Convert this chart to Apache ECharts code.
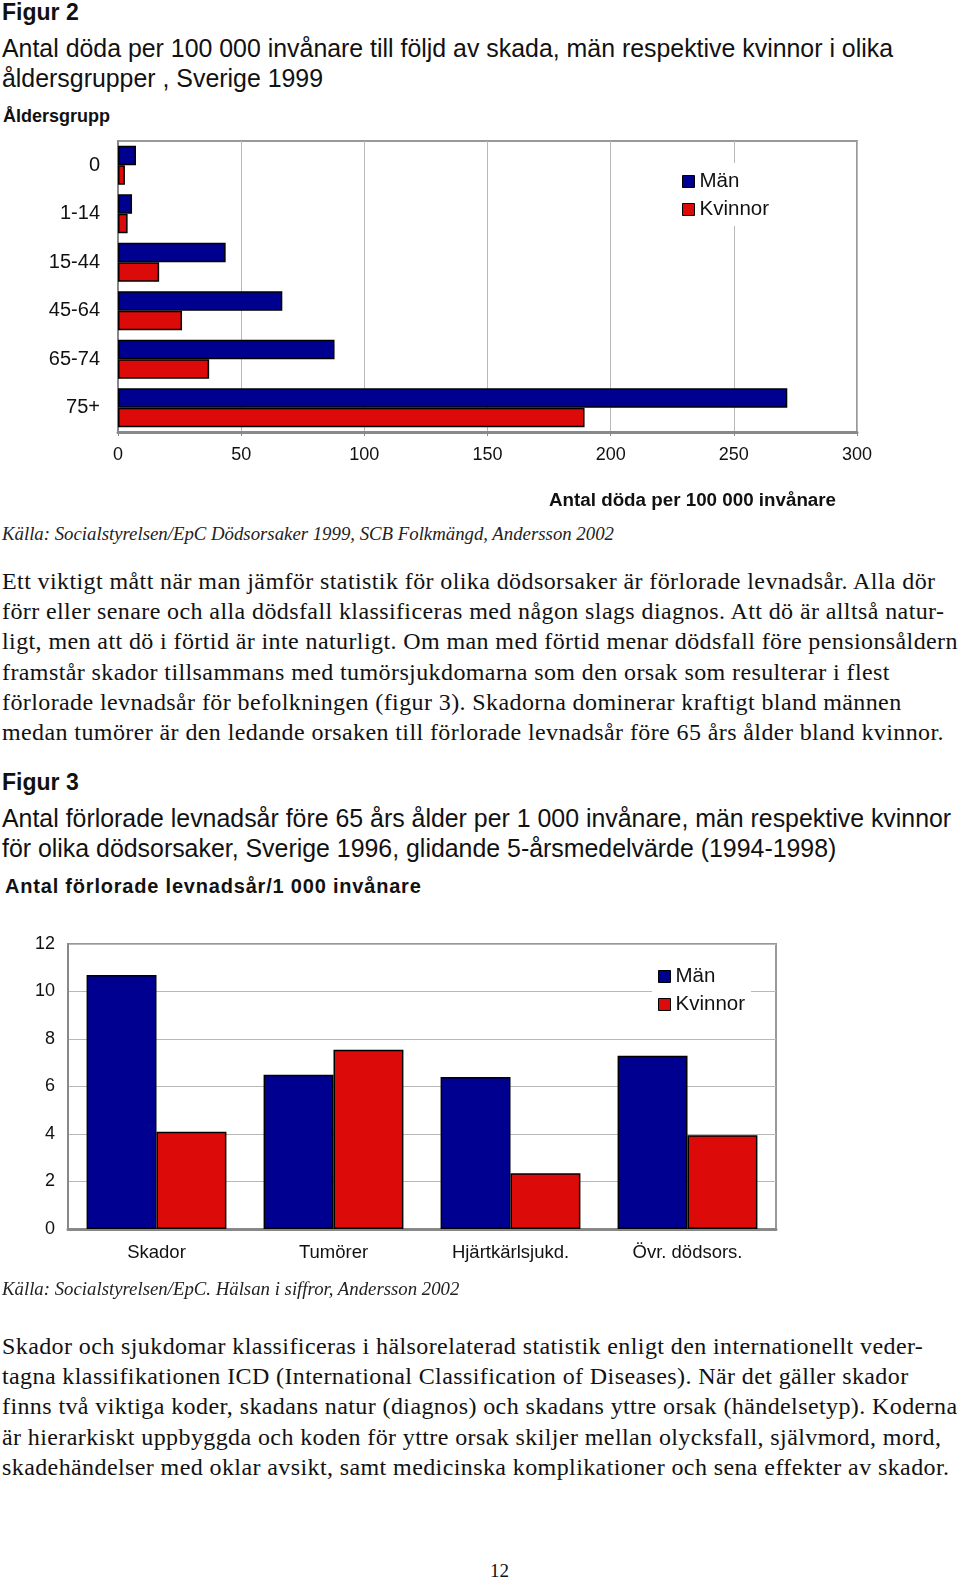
<!DOCTYPE html>
<html>
<head>
<meta charset="utf-8">
<script src="https://cdn.jsdelivr.net/npm/echarts@6/dist/echarts.min.js"></script>
<style>
  html, body { margin: 0; padding: 0; background: #fff; }
  body { width: 960px; height: 1580px; position: relative; overflow: hidden; color: #111; }
  .t { position: absolute; white-space: pre; }
  .sans { font-family: "Liberation Sans", Arial, sans-serif; }
  .serif { font-family: "Liberation Serif", "Times New Roman", serif; }
  .fig { font-weight: bold; font-size: 23px; line-height: 26px; }
  .title { font-size: 24.9px; line-height: 30px; }
  .src { font-style: italic; font-size: 18.8px; line-height: 22px; color: #222; }
  .para { font-size: 24px; line-height: 30.2px; letter-spacing: 0.4px; }
  #c1 { position: absolute; left: 0; top: 130px; width: 960px; height: 360px; }
  #c2 { position: absolute; left: 0; top: 900px; width: 960px; height: 380px; }
</style>
</head>
<body>
<div class="t sans fig" style="left:2px; top:-1px;">Figur 2</div>
<div class="t sans title" style="left:2px; top:33px;">Antal döda per 100 000 invånare till följd av skada, män respektive kvinnor i olika
åldersgrupper , Sverige 1999</div>
<div class="t sans" style="left:3px; top:105px; font-weight:bold; font-size:18px; line-height:22px;">Åldersgrupp</div>
<div id="c1"></div>
<div class="t sans" style="left:549px; top:489px; font-weight:bold; font-size:18.8px; line-height:22px;">Antal döda per 100 000 invånare</div>
<div class="t serif src" style="left:2px; top:523px;">Källa: Socialstyrelsen/EpC Dödsorsaker 1999, SCB Folkmängd, Andersson 2002</div>
<div class="t serif para" style="left:2px; top:566px;">Ett viktigt mått när man jämför statistik för olika dödsorsaker är förlorade levnadsår. Alla dör
förr eller senare och alla dödsfall klassificeras med någon slags diagnos. Att dö är alltså natur-
ligt, men att dö i förtid är inte naturligt. Om man med förtid menar dödsfall före pensionsåldern
framstår skador tillsammans med tumörsjukdomarna som den orsak som resulterar i flest
förlorade levnadsår för befolkningen (figur 3). Skadorna dominerar kraftigt bland männen
medan tumörer är den ledande orsaken till förlorade levnadsår före 65 års ålder bland kvinnor.</div>
<div class="t sans fig" style="left:2px; top:769px;">Figur 3</div>
<div class="t sans title" style="left:2px; top:803px;">Antal förlorade levnadsår före 65 års ålder per 1 000 invånare, män respektive kvinnor
för olika dödsorsaker, Sverige 1996, glidande 5-årsmedelvärde (1994-1998)</div>
<div class="t sans" style="left:5px; top:875px; font-weight:bold; font-size:20px; line-height:22px; letter-spacing:0.8px;">Antal förlorade levnadsår/1 000 invånare</div>
<div id="c2"></div>
<div class="t serif src" style="left:2px; top:1278px;">Källa: Socialstyrelsen/EpC. Hälsan i siffror, Andersson 2002</div>
<div class="t serif para" style="left:2px; top:1331px;">Skador och sjukdomar klassificeras i hälsorelaterad statistik enligt den internationellt veder-
tagna klassifikationen ICD (International Classification of Diseases). När det gäller skador
finns två viktiga koder, skadans natur (diagnos) och skadans yttre orsak (händelsetyp). Koderna
är hierarkiskt uppbyggda och koden för yttre orsak skiljer mellan olycksfall, självmord, mord,
skadehändelser med oklar avsikt, samt medicinska komplikationer och sena effekter av skador.</div>
<div class="t serif" style="left:490px; top:1559px; font-size:19px; line-height:24px;">12</div>

<script>
// ---- Figur 2 data ----
const ageGroups = ['0', '1-14', '15-44', '45-64', '65-74', '75+'];
const fig2Men = [7.3, 5.7, 43.7, 66.7, 87.9, 271.7];
const fig2Women = [2.8, 3.9, 16.7, 26.0, 37.0, 189.4];
const fig2Min = 0, fig2Max = 300, fig2Step = 50;

// ---- Figur 3 data ----
const causes = ['Skador', 'Tumörer', 'Hjärtkärlsjukd.', 'Övr. dödsors.'];
const fig3Men = [10.7, 6.5, 6.4, 7.3];
const fig3Women = [4.1, 7.55, 2.35, 3.95];
const fig3Min = 0, fig3Max = 12, fig3Step = 2;

const seriesNames = ['Män', 'Kvinnor'];

const NAVY = '#000090';
const RED = '#dd0a0a';
const SANS = '"Liberation Sans", Arial, sans-serif';
const TXT = '#111';

function legendCfg(left, top) {
  return {
    orient: 'vertical', left: left, top: top,
    itemWidth: 12, itemHeight: 12, itemGap: 7,
    padding: [8, 6, 6, 6],
    backgroundColor: '#fff',
    icon: 'rect',
    selectedMode: false,
    textStyle: { fontFamily: SANS, fontSize: 20.5, color: TXT },
    itemStyle: { borderColor: '#000', borderWidth: 1 },
    data: seriesNames
  };
}

const c1 = echarts.init(document.getElementById('c1'), null, { renderer: 'canvas' });
c1.setOption({
  animation: false,
  grid: { left: 118, top: 11, width: 739, height: 291, show: true, borderColor: '#999', borderWidth: 2, containLabel: false, outerBoundsMode: 'none' },
  legend: legendCfg(676, 33),
  xAxis: {
    type: 'value', min: fig2Min, max: fig2Max, interval: fig2Step,
    axisLine: { show: true, lineStyle: { color: '#888', width: 3 } },
    axisTick: { show: true, length: 4, lineStyle: { color: '#888' } },
    splitLine: { show: true, lineStyle: { color: '#b8b8b8', width: 1 } },
    axisLabel: { fontFamily: SANS, fontSize: 18, color: TXT, margin: 14 }
  },
  yAxis: {
    type: 'category', data: ageGroups, inverse: true,
    axisLine: { show: true, lineStyle: { color: '#888', width: 2 } },
    axisTick: { show: false },
    axisLabel: { fontFamily: SANS, fontSize: 20, color: TXT, margin: 18 }
  },
  series: [
    { name: seriesNames[0], type: 'bar', data: fig2Men, barGap: '0%', barCategoryGap: '20%',
      itemStyle: { color: NAVY, borderColor: '#000', borderWidth: 1.5 } },
    { name: seriesNames[1], type: 'bar', data: fig2Women, barGap: '0%', barCategoryGap: '20%',
      itemStyle: { color: RED, borderColor: '#000', borderWidth: 1.5 } }
  ]
});

const c2 = echarts.init(document.getElementById('c2'), null, { renderer: 'canvas' });
c2.setOption({
  animation: false,
  grid: { left: 68, top: 44, width: 708, height: 285, show: true, borderColor: '#999', borderWidth: 2, containLabel: false, outerBoundsMode: 'none' },
  legend: legendCfg(652, 58),
  xAxis: {
    type: 'category', data: causes,
    axisLine: { show: true, lineStyle: { color: '#888', width: 3 } },
    axisTick: { show: false },
    axisLabel: { fontFamily: SANS, fontSize: 18.5, color: TXT, margin: 14 }
  },
  yAxis: {
    type: 'value', min: fig3Min, max: fig3Max, interval: fig3Step,
    axisLine: { show: true, lineStyle: { color: '#888', width: 2 } },
    axisTick: { show: false },
    splitLine: { show: true, lineStyle: { color: '#b8b8b8', width: 1 } },
    axisLabel: { fontFamily: SANS, fontSize: 18, color: TXT, margin: 13 }
  },
  series: [
    { name: seriesNames[0], type: 'bar', data: fig3Men, barGap: '0%', barCategoryGap: '21%',
      itemStyle: { color: NAVY, borderColor: '#000', borderWidth: 1.5 } },
    { name: seriesNames[1], type: 'bar', data: fig3Women, barGap: '0%', barCategoryGap: '21%',
      itemStyle: { color: RED, borderColor: '#000', borderWidth: 1.5 } }
  ]
});
</script>
</body>
</html>
